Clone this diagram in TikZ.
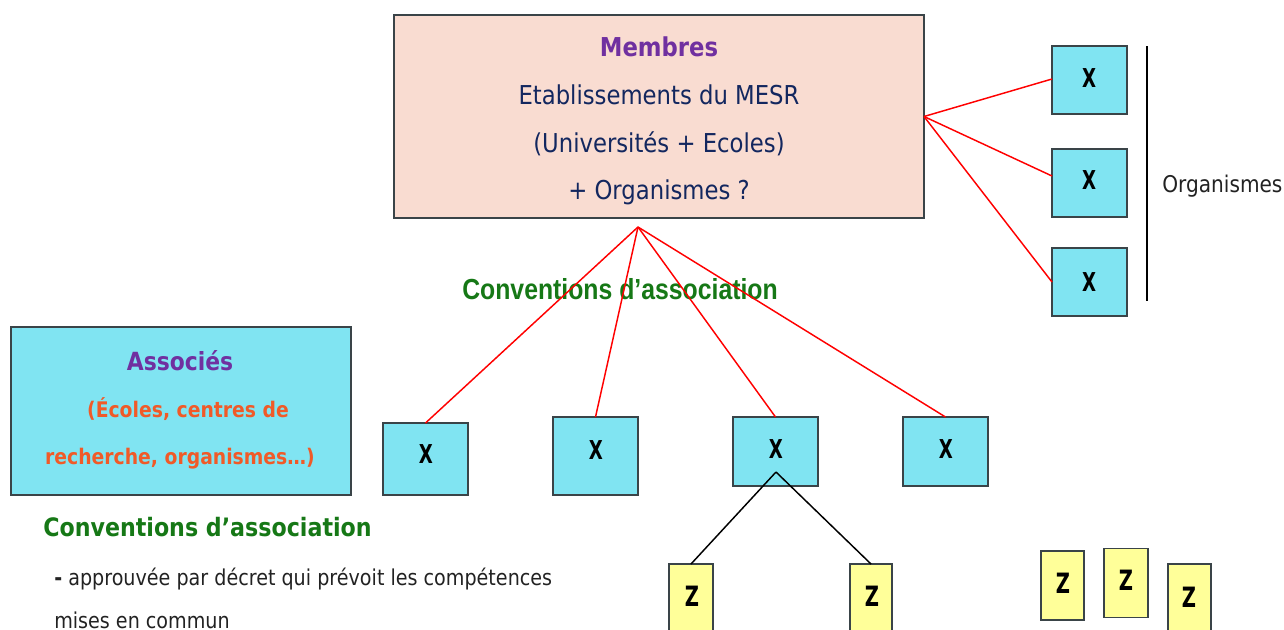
\documentclass[tikz,border=0pt]{standalone}
\usepackage{fontspec}
\usetikzlibrary{calc}
\newfontfamily\tah{DejaVu Sans}[FakeStretch=0.875]
\newfontfamily\ari{Liberation Sans}[FakeStretch=0.855]
\newfontfamily\cond{DejaVu Sans}[FakeStretch=0.7]
\definecolor{pinkfill}{HTML}{F9DCD1}
\definecolor{cyanfill}{HTML}{80E4F2}
\definecolor{yelfill}{HTML}{FFFF99}
\definecolor{boxline}{HTML}{3A4448}
\definecolor{purp}{HTML}{7030A0}
\definecolor{navy}{HTML}{13275F}
\definecolor{orng}{HTML}{F05A28}
\definecolor{grn}{HTML}{167816}
\definecolor{txt}{HTML}{222222}
\tikzset{
  box/.style={draw=boxline, line width=1.1pt, inner sep=0pt, outer sep=0pt},
  xbox/.style={box, fill=cyanfill, minimum width={#1*0.75pt}},
  zbox/.style={box, fill=yelfill, minimum width={#1*0.75pt}, minimum height={69*0.75pt}},
  xlab/.style={font=\cond\bfseries\fontsize{19.5}{20}\selectfont, text=black, inner sep=0pt},
  zlab/.style={font=\cond\bfseries\fontsize{21}{22}\selectfont, text=black, inner sep=0pt},
  redline/.style={draw=red, line width=1.1pt},
  blkline/.style={draw=black, line width=1.1pt},
  mtext/.style={font=\tah\fontsize{19.5}{20}\selectfont, text=navy, anchor=base, inner sep=0pt},
}
\begin{document}
\begin{tikzpicture}[x=0.75pt,y=-0.75pt]
\useasboundingbox (0,0) rectangle (1284,629);
\clip (0,0) rectangle (1284,629);
% Membres box
\node[box, fill=pinkfill, minimum width={530*0.75pt}, minimum height={203*0.75pt}] (memb) at (659,116.5) {};
\node[mtext, font=\tah\bfseries\fontsize{19.5}{20}\selectfont, text=purp] (t1) at (659,56) {Membres};
\node[mtext] (t2) at (659,104) {Etablissements du MESR};
\node[mtext] (t3) at (659,152) {(Universités + Ecoles)};
\node[mtext] (t4) at (659,199) {+ Organismes ?};
% right organismes boxes
\node[xbox=75, minimum height={68*0.75pt}] (rA) at (1089.5,80) {};
\node[xbox=75, minimum height={68*0.75pt}] (rB) at (1089.5,183) {};
\node[xbox=75, minimum height={68*0.75pt}] (rC) at (1089.5,282) {};
\node[xlab] (lA) at (1089,78) {X};
\node[xlab] (lB) at (1089,180) {X};
\node[xlab] (lC) at (1089,282) {X};
\coordinate (vtop) at (1147,46);
\coordinate (vbot) at (1147,301);
\draw[line width=1.1pt] (vtop) -- (vbot);
\node[font=\tah\fontsize{17.25}{18}\selectfont, text=txt, anchor=base west, inner sep=0pt] (org) at (1162,192) {Organismes};
% Associes box
\node[box, fill=cyanfill, minimum width={340*0.75pt}, minimum height={168*0.75pt}] (ass) at (181,411) {};
\node[anchor=base, inner sep=0pt, font=\tah\bfseries\fontsize{18.75}{19}\selectfont, text=purp] (a1) at (180,370) {Associés};
\node[anchor=base, inner sep=0pt, font=\tah\bfseries\fontsize{16.1}{17}\selectfont, text=orng] (a2) at (188,417) {(Écoles, centres de};
\node[anchor=base, inner sep=0pt, font=\tah\bfseries\fontsize{16.1}{17}\selectfont, text=orng] (a3) at (180,464) {recherche, organismes…)};
% middle label
\node[anchor=base west, inner sep=0pt, font=\ari\bfseries\fontsize{21.75}{22}\selectfont, text=grn] (conv1) at (462,299) {Conventions d’association};
% lower texts
\node[anchor=base west, inner sep=0pt, font=\tah\bfseries\fontsize{19}{20}\selectfont, text=grn] (conv2) at (43,536) {Conventions d’association};
\node[anchor=base west, inner sep=0pt, font=\tah\fontsize{16.4}{17}\selectfont, text=txt] (body1) at (54,585) {{\bfseries -} approuvée par décret qui prévoit les compétences};
\node[anchor=base west, inner sep=0pt, font=\tah\fontsize{16.4}{17}\selectfont, text=txt] (body2) at (54,628) {mises en commun};
% X boxes row
\node[xbox=85, minimum height={72*0.75pt}] (b1) at (425.5,459) {};
\node[xbox=85, minimum height={78*0.75pt}] (b2) at (595.5,456) {};
\node[xbox=85, minimum height={69*0.75pt}] (b3) at (775.5,451.5) {};
\node[xbox=85, minimum height={69*0.75pt}] (b4) at (945.5,451.5) {};
\node[xlab] (l1) at (426,454) {X};
\node[xlab] (l2) at (596,450) {X};
\node[xlab] (l3) at (776,449) {X};
\node[xlab] (l4) at (946,449) {X};
% Z boxes
\node[zbox=44] (z1) at (691,598.5) {};
\node[zbox=42] (z2) at (871,598.5) {};
\node[zbox=43] (z3) at (1062.5,585.5) {};
\node[zbox=44] (z4) at (1126,583) {};
\node[zbox=43] (z5) at (1189.5,598.5) {};
\node[zlab] (zl1) at (692,596) {Z};
\node[zlab] (zl2) at (872,596) {Z};
\node[zlab] (zl3) at (1063,583) {Z};
\node[zlab] (zl4) at (1126,580) {Z};
\node[zlab] (zl5) at (1189,597) {Z};
% connectors
\coordinate (apex) at (638,227);
\draw[redline] (apex) -- (b1.north);
\draw[redline] (apex) -- (b2.north);
\draw[redline] (apex) -- (b3.north);
\draw[redline] (apex) -- (b4.north);
\draw[redline] (memb.east) -- ($(rA.west)+(0,-1)$);
\draw[redline] (memb.east) -- ($(rB.west)+(0,-7)$);
\draw[redline] (memb.east) -- (rC.west);
\coordinate (b3j) at (776,472);
\draw[blkline] (b3j) -- (z1.north);
\draw[blkline] (b3j) -- (z2.north);
\end{tikzpicture}
\end{document}
